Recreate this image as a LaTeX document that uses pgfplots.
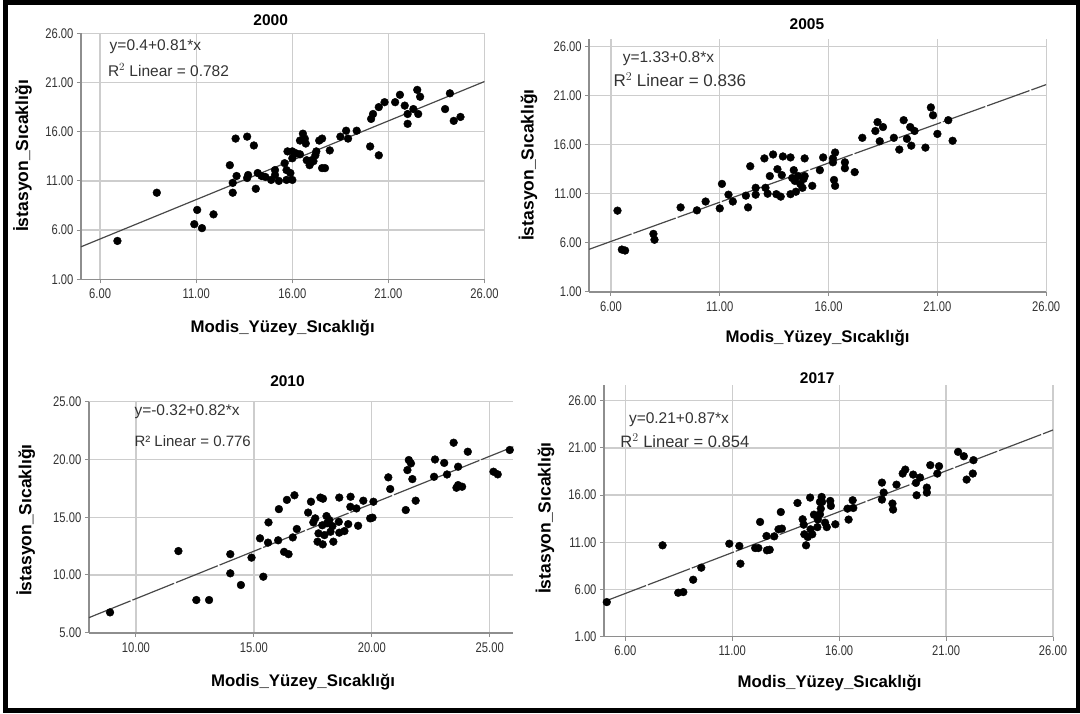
\documentclass[border=0pt]{standalone}
\usepackage{fontspec}
\setmainfont{Liberation Sans}
\newfontfamily\narrowfont[FakeStretch=0.8]{Liberation Sans}
\usepackage{pgfplots}
\usepackage{pgfplotstable}
\pgfplotsset{compat=1.18}

\definecolor{gridc}{HTML}{CDCDCD}
\definecolor{axc}{HTML}{8E8E8E}
\definecolor{tickc}{HTML}{333333}
\definecolor{fitc}{HTML}{484848}

% scatter data, one table per year (Modis, Istasyon)
\pgfplotstableread{
x y
6.9 4.9
8.95 9.8
10.9 6.6
11.05 8.05
11.3 6.2
11.9 7.6
12.75 12.6
12.9 10.8
12.9 9.8
13.1 11.5
13.05 15.3
13.65 15.5
13.7 11.6
13.65 11.3
14.0 14.6
14.1 10.2
14.2 11.8
14.4 11.5
14.6 11.4
14.9 11.1
15.1 12.1
15.1 11.6
15.3 11.0
15.6 12.8
15.7 12.1
15.7 11.1
15.75 14.0
15.9 11.8
16.0 11.1
16.0 14.0
16.0 13.3
16.2 13.8
16.4 13.7
16.4 15.1
16.55 15.8
16.65 15.3
16.7 14.8
16.75 13.1
16.9 12.6
17.0 13.1
17.1 13.0
17.2 13.6
17.25 14.0
17.4 15.1
17.55 15.3
17.55 12.3
17.7 12.3
17.95 14.1
18.5 15.5
18.8 16.1
18.9 15.3
19.35 16.1
20.05 14.5
20.1 17.3
20.2 17.8
20.5 18.5
20.5 13.6
20.8 19.0
21.35 19.0
21.6 19.75
21.85 18.65
22.0 17.8
22.0 16.8
22.5 20.25
22.3 18.3
22.65 19.55
22.55 17.8
23.95 18.3
24.2 19.9
24.4 17.1
24.75 17.5
}\dataA

\pgfplotstableread{
x y
6.3 9.27
6.5 5.3
6.65 5.2
7.95 6.9
8.0 6.3
9.2 9.6
9.95 9.3
10.35 10.2
11.0 9.5
11.1 12.0
11.4 10.9
11.6 10.2
12.2 10.8
12.3 9.6
12.4 13.8
12.65 10.9
12.65 11.6
13.05 14.6
13.1 11.6
13.2 11.0
13.3 12.8
13.45 15.0
13.6 10.95
13.65 13.5
13.8 10.7
13.85 12.9
13.9 14.8
14.25 10.95
14.25 14.7
14.33 12.6
14.4 13.4
14.45 12.3
14.5 11.2
14.6 12.8
14.7 12.0
14.8 11.6
14.85 12.5
14.9 12.8
14.9 14.6
15.25 11.8
15.6 13.4
15.75 14.7
16.2 14.6
16.2 14.2
16.25 12.4
16.3 11.8
16.3 15.2
16.75 14.2
16.75 13.6
17.2 13.2
17.55 16.7
18.15 17.4
18.25 18.3
18.5 17.8
18.35 16.35
19.0 16.7
19.25 15.5
19.45 18.5
19.6 16.6
19.75 17.8
19.8 15.9
19.95 17.4
20.45 15.7
20.7 19.8
20.8 19.0
21.0 17.1
21.5 18.5
21.7 16.4
}\dataB

\pgfplotstableread{
x y
8.9 6.76
11.8 12.07
12.56 7.83
13.1 7.83
14.0 11.8
14.0 10.14
14.45 9.13
14.9 11.5
15.26 13.17
15.4 9.85
15.6 12.8
15.62 14.55
16.03 13.0
16.06 15.7
16.28 12.0
16.47 11.8
16.4 16.5
16.65 13.25
16.72 16.9
16.82 13.98
17.3 15.4
17.42 16.34
17.52 14.55
17.6 14.9
17.7 12.88
17.74 13.6
17.82 16.7
17.9 14.3
17.92 12.65
17.93 16.6
17.99 13.45
18.08 15.1
18.1 14.47
18.2 14.75
18.25 13.74
18.33 14.23
18.37 12.88
18.6 14.6
18.62 16.7
18.62 13.66
18.84 13.8
19.0 14.4
19.1 16.77
19.09 15.9
19.35 15.76
19.42 14.26
19.64 16.43
19.93 14.9
20.03 14.96
20.07 16.34
20.7 18.45
20.78 17.44
21.44 15.62
21.51 19.08
21.57 19.95
21.66 19.66
21.72 18.3
21.86 16.43
22.64 18.5
22.68 20.0
23.07 19.7
23.19 18.7
23.47 21.45
23.59 17.55
23.66 19.37
23.66 17.78
23.83 17.64
24.07 20.67
25.16 18.94
25.34 18.71
25.85 20.82
}\dataC

\pgfplotstableread{
x y
5.13 4.65
7.74 10.67
8.47 5.64
8.71 5.71
9.17 7.02
9.55 8.3
10.86 10.84
11.33 10.6
11.38 8.72
12.07 10.38
12.22 10.38
12.3 13.15
12.6 11.66
12.62 10.14
12.75 10.2
12.96 11.62
13.16 12.37
13.27 14.2
13.32 12.44
14.05 15.16
14.29 13.43
14.34 12.86
14.37 11.84
14.45 10.67
14.53 11.55
14.64 15.73
14.66 12.37
14.74 11.84
14.82 13.92
14.98 12.6
15.0 13.4
15.1 15.27
15.1 13.96
15.14 14.56
15.18 15.8
15.2 15.27
15.34 13.07
15.42 12.6
15.58 15.38
15.61 14.85
15.82 12.9
16.39 14.56
16.44 13.4
16.63 15.45
16.66 14.63
18.0 17.32
18.0 15.52
18.08 16.26
18.49 15.1
18.52 14.46
18.68 17.1
18.97 18.28
19.09 18.7
19.46 18.17
19.59 17.29
19.62 15.98
19.78 17.86
20.1 16.79
20.1 16.26
20.26 19.17
20.59 18.28
20.67 19.06
21.56 20.58
21.83 20.12
21.96 17.64
22.25 18.28
22.28 19.7
}\dataD

% tick label font (narrow, like the SPSS output)
\newcommand{\tl}[1]{{\narrowfont\fontsize{14}{15}\selectfont #1}}

\pgfplotsset{
  spss/.style={
    scale only axis,
    axis x line*=bottom,
    axis y line*=left,
    axis line style={-, axc, line width=1.6pt},
    grid=major,
    grid style={gridc, line width=1.3pt},
    tick align=outside,
    major tick length=4pt,
    tick style={axc, line width=1pt},
    tick label style={text=tickc},
    xticklabel style={yshift=-2pt},
  },
  big/.style={
    xtick={6,11,16,21,26},
    xticklabels={\tl{6.00},\tl{11.00},\tl{16.00},\tl{21.00},\tl{26.00}},
    ytick={1,6,11,16,21,26},
    yticklabels={\tl{1.00},\tl{6.00},\tl{11.00},\tl{16.00},\tl{21.00},\tl{26.00}},
  },
  pts/.style={only marks, mark=*, mark size=3.9pt, mark options={fill=black, draw=black}},
  fit/.style={fitc, line width=1.2pt, no marks},
}

\newcommand{\ylab}{\fontsize{17.5}{20}\selectfont\bfseries İstasyon\_Sıcaklığı}
\newcommand{\xlab}{\fontsize{16.8}{20}\selectfont\bfseries Modis\_Yüzey\_Sıcaklığı}
\newcommand{\ttl}{\fontsize{15.5}{18}\selectfont\bfseries}
\newcommand{\eqf}{\fontsize{15.5}{18}\selectfont}

\begin{document}
\begin{tikzpicture}
\useasboundingbox (0,0) rectangle (1080pt,-713pt);
\draw[black, line width=5pt] (5pt,-2.5pt) rectangle (1078pt,-710.5pt);

% 2000
\begin{axis}[spss, big, at={(80.9pt,-279.3pt)}, anchor=south west,
  width=403.6pt, height=246pt,
  xmin=5, xmax=26, ymin=1, ymax=26]
\addplot[fit] coordinates {(5,4.3) (26,21.1)};
\addplot[pts] table {\dataA};
\end{axis}

% 2005
\begin{axis}[spss, big, at={(589.2pt,-291.7pt)}, anchor=south west,
  width=457pt, height=252.4pt,
  xmin=5, xmax=26, ymin=1, ymax=26.75]
\addplot[fit, dash pattern=on 45pt off 2pt] coordinates {(5,5.33) (26,22.13)};
\addplot[pts] table {\dataB};
\end{axis}

% 2010
\begin{axis}[spss, at={(88.8pt,-632.7pt)}, anchor=south west,
  width=424.5pt, height=231pt,
  xmin=8, xmax=26, ymin=5, ymax=25,
  xtick={10,15,20,25}, xticklabels={\tl{10.00},\tl{15.00},\tl{20.00},\tl{25.00}},
  ytick={5,10,15,20,25}, yticklabels={\tl{5.00},\tl{10.00},\tl{15.00},\tl{20.00},\tl{25.00}}]
\addplot[fit, dash pattern=on 45pt off 2pt] coordinates {(8,6.3) (26,21.1)};
\addplot[pts] table {\dataC};
\end{axis}

% 2017
\begin{axis}[spss, big, at={(604pt,-636.5pt)}, anchor=south west,
  width=449pt, height=251.5pt,
  xmin=5, xmax=26, ymin=1, ymax=27.67]
\addplot[fit, dash pattern=on 45pt off 2pt] coordinates {(5,4.7) (26,22.9)};
\addplot[pts] table {\dataD};
\end{axis}

% titles
\node at (270.7pt,-20pt) {\ttl 2000};
\node at (806.9pt,-24pt) {\ttl 2005};
\node at (287.5pt,-381pt) {\ttl 2010};
\node at (817.2pt,-378pt) {\ttl 2017};

% axis labels
\node[rotate=90] at (22.4pt,-156pt) {\ylab};
\node[rotate=90] at (528pt,-165pt) {\ylab};
\node[rotate=90] at (25.8pt,-520pt) {\ylab};
\node[rotate=90] at (545pt,-518pt) {\ylab};
\node at (282.7pt,-328pt) {\xlab};
\node at (817.6pt,-338pt) {\xlab};
\node at (303pt,-682pt) {\xlab};
\node at (829.6pt,-683pt) {\xlab};

% fit annotations
\node[anchor=west, inner sep=0pt, text=tickc] at (109.5pt,-47pt) {\eqf y=0.4+0.81*x};
\node[anchor=west, inner sep=0pt, text=tickc] at (107.8pt,-70pt) {\eqf R$^{2}$ Linear = 0.782};
\node[anchor=west, inner sep=0pt, text=tickc] at (622.6pt,-59pt) {\eqf y=1.33+0.8*x};
\node[anchor=west, inner sep=0pt, text=tickc] at (613.3pt,-80pt) {\fontsize{17}{18}\selectfont R$^{2}$ Linear = 0.836};
\node[anchor=west, inner sep=0pt, text=tickc] at (134.3pt,-411.7pt) {\eqf y=-0.32+0.82*x};
\node[anchor=west, inner sep=0pt, text=tickc] at (134.3pt,-441pt) {\fontsize{15}{16}\selectfont R² Linear = 0.776};
\node[anchor=west, inner sep=0pt, text=tickc] at (628.8pt,-420pt) {\eqf y=0.21+0.87*x};
\node[anchor=west, inner sep=0pt, text=tickc] at (620.2pt,-441pt) {\fontsize{16.5}{18}\selectfont R$^{2}$ Linear = 0.854};
\end{tikzpicture}
\end{document}
